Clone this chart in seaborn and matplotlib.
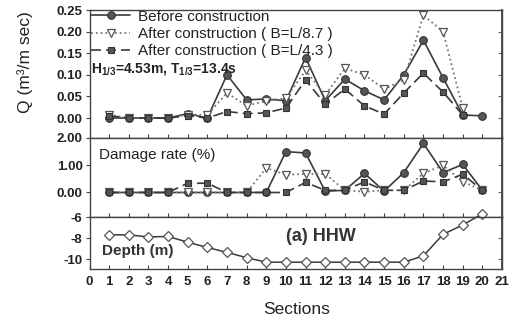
import numpy as np
import pandas as pd
import matplotlib
matplotlib.use("Agg")
import matplotlib.pyplot as plt
import seaborn as sns

# ---------------- data ----------------
sections = list(range(1, 21))
x_ticks = list(range(0, 22))

q_before = [0.0, 0.0, 0.0, 0.0, 0.01, 0.0, 0.10, 0.042, 0.044, 0.04, 0.14, 0.04,
            0.09, 0.063, 0.042, 0.10, 0.18, 0.093, 0.007, 0.005]
q_b87 = [0.008, 0.0, 0.0, 0.0, 0.008, 0.007, 0.058, 0.028, 0.04, 0.046, 0.11, 0.053,
         0.115, 0.10, 0.067, 0.088, 0.238, 0.20, 0.023, np.nan]
q_b43 = [0.005, 0.0, 0.0, 0.0, 0.005, 0.0, 0.015, 0.01, 0.012, 0.023, 0.088, 0.032,
         0.067, 0.028, 0.009, 0.058, 0.104, 0.06, 0.007, np.nan]

d_before = [0, 0, 0, 0, 0, 0, 0, 0, 0, 1.5, 1.45, 0.05, 0.08, 0.70, 0.05, 0.73,
            1.80, 0.73, 1.03, 0.08]
d_b87 = [0, 0, 0, 0, 0, 0, 0, 0, 0.90, 0.65, 0.68, 0.68, 0.08, 0.03, 0.08, 0.08,
         0.70, 1.00, 0.40, 0.08]
d_b43 = [0, 0, 0, 0, 0.34, 0.34, 0, 0, 0, 0, 0.37, 0.08, 0.08, 0.39, 0.08, 0.08,
         0.42, 0.39, 0.67, 0.08]

depth = [-7.7, -7.7, -7.9, -7.85, -8.4, -8.9, -9.37, -9.87, -10.3, -10.3, -10.3,
         -10.3, -10.3, -10.3, -10.3, -10.3, -9.7, -7.65, -6.76, -5.7]

labels = ["Before construction", "After construction ( B=L/8.7 )",
          "After construction ( B=L/4.3 )"]
q_ticks = [0.0, 0.05, 0.10, 0.15, 0.20, 0.25]
d_ticks = [0.0, 1.0, 2.0]
z_ticks = [-10, -8, -6]

# ---------------- style ----------------
sns.set_theme(style="white")
plt.rcParams["font.family"] = ["Liberation Sans", "DejaVu Sans"]
plt.rcParams["mathtext.fontset"] = "custom"
plt.rcParams["mathtext.rm"] = "Liberation Sans"
plt.rcParams["mathtext.bf"] = "Liberation Sans:bold"

TXT = "#222222"
styles = [
    dict(color="#3a3a3a", ls="-", lw=1.2, marker="o", ms=5.5,
         markerfacecolor="#555555", markeredgecolor="#333333", markeredgewidth=0.8),
    dict(color="#777777", ls=":", lw=1.3, marker="v", ms=6,
         markerfacecolor="white", markeredgecolor="#555555", markeredgewidth=0.9),
    dict(color="#3a3a3a", ls=(0, (6, 3)), lw=1.2, marker="s", ms=5,
         markerfacecolor="#555555", markeredgecolor="#333333", markeredgewidth=0.8),
]

W, H = 520, 326
fig = plt.figure(figsize=(W / 100, H / 100), dpi=100)


def axpos(x0, y0, x1, y1):
    return [x0 / W, 1 - y1 / H, (x1 - x0) / W, (y1 - y0) / H]


ax1 = fig.add_axes(axpos(89.5, 9.5, 502, 138))
ax2 = fig.add_axes(axpos(89.5, 138, 502, 217))
ax3 = fig.add_axes(axpos(89.5, 217, 502, 269))

for vals, st in zip([q_before, q_b87, q_b43], styles):
    sns.lineplot(x=sections, y=vals, ax=ax1, clip_on=False, **st)
for vals, st in zip([d_before, d_b87, d_b43], styles):
    sns.lineplot(x=sections, y=vals, ax=ax2, **st)
sns.lineplot(x=sections, y=depth, ax=ax3, color="#3a3a3a", lw=1.1, marker="D",
             ms=5.5, markerfacecolor="white", markeredgecolor="#555555",
             markeredgewidth=0.9, clip_on=False)

ax1.set_ylim(-0.0463, 0.2512)
ax2.set_ylim(-0.9, 2.0)
ax3.set_ylim(-10.95, -6.0)

for ax, yt, fmt in [(ax1, q_ticks, "{:.2f}"), (ax2, d_ticks, "{:.2f}"),
                    (ax3, z_ticks, "{:d}")]:
    ax.set_xlim(0, 21)
    ax.set_xticks(x_ticks)
    ax.set_yticks(yt)
    ax.set_yticklabels([fmt.format(v) for v in yt], fontsize=9.5,
                       fontweight="bold", color=TXT)
    ax.tick_params(axis="x", direction="in", length=3, width=0.8,
                   colors="#444444", bottom=True)
    ax.tick_params(axis="y", direction="out", length=3, width=0.8,
                   colors="#444444", left=True, pad=2)
    for lab in ax.get_yticklabels():
        lab.set_color(TXT)
    for sp in ax.spines.values():
        sp.set_color("#444444")
        sp.set_linewidth(1.0)
    ax.set_xlabel("")
    ax.set_ylabel("")
    sec = ax.secondary_yaxis("right")
    sec.set_yticks(yt)
    sec.tick_params(direction="in", length=3, width=0.8, colors="#666666",
                    labelright=False)
    sec.spines["right"].set_color("#444444")

ax1.tick_params(axis="x", labelbottom=False)
ax2.tick_params(axis="x", labelbottom=False)
ax3.set_xticklabels([str(v) for v in x_ticks], fontsize=9.5, fontweight="bold",
                    color=TXT)
ax3.tick_params(axis="x", pad=5)
for lab in ax3.get_xticklabels():
    lab.set_color(TXT)

leg = ax1.legend(ax1.lines[:3], labels, loc="upper left",
                 bbox_to_anchor=(0.0, 1.01), frameon=False, fontsize=11,
                 handlelength=2.55, handletextpad=0.55, labelspacing=0.22,
                 borderaxespad=0.0, borderpad=0.1)
for t in leg.get_texts():
    t.set_color(TXT)

ax1.text(0.003, 0.535, r"H$_{\mathbf{1/3}}$=4.53m, T$_{\mathbf{1/3}}$=13.4s",
         transform=ax1.transAxes, fontsize=10, fontweight="bold", color=TXT,
         ha="left", va="center")
ax2.text(0.022, 0.79, "Damage rate (%)", transform=ax2.transAxes, fontsize=11,
         color=TXT, ha="left", va="center")
ax3.text(0.03, 0.35, "Depth (m)", transform=ax3.transAxes, fontsize=11,
         fontweight="bold", color="#333333", ha="left", va="center")
ax3.text(0.56, 0.62, "(a) HHW", transform=ax3.transAxes, fontsize=13,
         fontweight="bold", color="#333333", ha="center", va="center")

fig.text(25 / W, 1 - 62 / H, "Q (m³/m sec)", rotation=90, fontsize=12.5,
         color=TXT, ha="center", va="center")
fig.text(297 / W, 1 - 309 / H, "Sections", fontsize=12.5, color=TXT,
         ha="center", va="center")

fig.savefig("out.png", dpi=100, facecolor="white")
